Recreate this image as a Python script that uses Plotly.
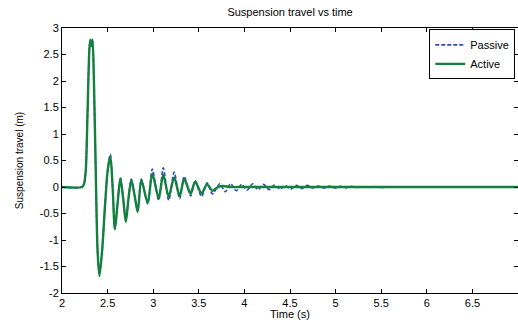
import plotly.graph_objects as go

# Active suspension travel (time s, travel m) read at turning points
t_active = [2.0, 2.22, 2.24, 2.26, 2.28, 2.30, 2.31, 2.322, 2.335, 2.35, 2.37, 2.39, 2.41, 2.44, 2.47,
            2.50, 2.53, 2.555, 2.58, 2.61, 2.64, 2.67, 2.70, 2.73, 2.76, 2.80, 2.83, 2.87, 2.94,
            2.99, 3.06, 3.11, 3.17, 3.23, 3.29, 3.34, 3.41, 3.46, 3.53, 3.59, 3.65, 3.71, 3.77,
            3.85, 4.0, 7.0]
y_active = [0.0, 0.0, 0.05, 0.3, 1.4, 2.6, 2.78, 2.66, 2.78, 2.0, 0.3, -1.2, -1.68, -1.2, -0.4,
            0.3, 0.58, 0.0, -0.8, -0.3, 0.16, -0.2, -0.66, -0.2, 0.13, -0.2, -0.47, 0.13, -0.30,
            0.25, -0.21, 0.23, -0.18, 0.18, -0.17, 0.15, -0.12, 0.10, -0.12, 0.05, -0.07, 0.0, 0.02,
            0.0, 0.0, 0.0]

# Passive suspension travel
t_passive = [2.0, 2.22, 2.24, 2.26, 2.28, 2.30, 2.31, 2.322, 2.335, 2.35, 2.37, 2.39, 2.41, 2.44, 2.47,
             2.50, 2.53, 2.555, 2.58, 2.61, 2.64, 2.67, 2.70, 2.73, 2.76, 2.80, 2.83, 2.87, 2.94,
             2.99, 3.06, 3.11, 3.17, 3.23, 3.29, 3.34, 3.41, 3.46, 3.53, 3.59, 3.65, 3.73, 3.79,
             3.85, 3.91, 3.97, 4.03, 4.09, 4.15, 4.21, 4.27, 4.33, 4.39, 4.45, 4.51, 4.57, 4.63,
             4.69, 4.75, 4.81, 4.87, 4.93, 4.99, 5.05, 5.11, 5.17, 5.23, 5.29, 5.35, 5.41, 5.47,
             5.6, 5.8, 7.0]
y_passive = [0.0, 0.0, 0.05, 0.3, 1.4, 2.6, 2.76, 2.64, 2.76, 2.0, 0.3, -1.2, -1.64, -1.2, -0.4,
             0.3, 0.62, 0.0, -0.78, -0.3, 0.18, -0.2, -0.64, -0.2, 0.15, -0.2, -0.46, 0.15, -0.32,
             0.34, -0.25, 0.36, -0.25, 0.28, -0.22, 0.20, -0.17, 0.12, -0.18, 0.08, -0.13, 0.06, -0.09,
             0.06, -0.07, 0.05, -0.06, 0.06, -0.05, 0.05, -0.05, 0.04, -0.04, 0.03, -0.04, 0.03, -0.03,
             0.03, -0.02, 0.02, -0.02, 0.02, -0.02, 0.015, -0.015, 0.015, -0.01, 0.01, -0.01, 0.01, -0.01,
             0.0, 0.0, 0.0]

x_ticks = [2, 2.5, 3, 3.5, 4, 4.5, 5, 5.5, 6, 6.5, 7]
x_labels = ["2", "2.5", "3", "3.5", "4", "4.5", "5", "5.5", "6", "6.5", "7"]
y_ticks = [-2, -1.5, -1, -0.5, 0, 0.5, 1, 1.5, 2, 2.5, 3]
y_labels = ["-2", "-1.5", "-1", "-0.5", "0", "0.5", "1", "1.5", "2", "2.5", "3"]

FONT = "Liberation Sans, Arial, sans-serif"

fig = go.Figure()
fig.add_trace(go.Scatter(x=t_passive, y=y_passive, mode="lines", name="Passive",
                         line=dict(color="#3049b8", width=1.6, dash="4px,2px", shape="spline", smoothing=0.8)))
fig.add_trace(go.Scatter(x=t_active, y=y_active, mode="lines", name="Active",
                         line=dict(color="#148040", width=2.4, shape="spline", smoothing=0.8)))

axis_common = dict(showline=True, linecolor="black", linewidth=1, mirror="ticks",
                   ticks="inside", ticklen=4, tickcolor="black", showgrid=False, zeroline=False,
                   automargin=False,
                   tickfont=dict(family=FONT, size=11, color="black"))

fig.update_layout(
    width=518, height=320,
    margin=dict(l=62, r=0, t=28, b=27),
    paper_bgcolor="white", plot_bgcolor="white",
    title=dict(text="Suspension travel vs time", x=0.56, xanchor="center", y=0.963, yanchor="middle",
               font=dict(family=FONT, size=11, color="black")),
    xaxis=dict(range=[2, 7], tickvals=x_ticks, ticktext=x_labels,
               title=dict(text="Time (s)", standoff=0,
                          font=dict(family=FONT, size=11, color="black")),
               **axis_common),
    yaxis=dict(range=[-2, 3], tickvals=y_ticks, ticktext=y_labels,
               title=dict(text="Suspension travel (m)", standoff=14,
                          font=dict(family="Liberation Sans Narrow, Arial Narrow, sans-serif", size=10, color="black")),
               **axis_common),
    legend=dict(x=0.994, y=0.995, xanchor="right", yanchor="top", bgcolor="white",
                bordercolor="black", borderwidth=1, tracegroupgap=0, itemwidth=30,
                font=dict(family=FONT, size=11, color="black")),
    showlegend=True,
)

fig.write_html("out.html", config={"displayModeBar": False},
               post_script="document.body.style.margin='0';document.body.style.overflow='hidden';")
